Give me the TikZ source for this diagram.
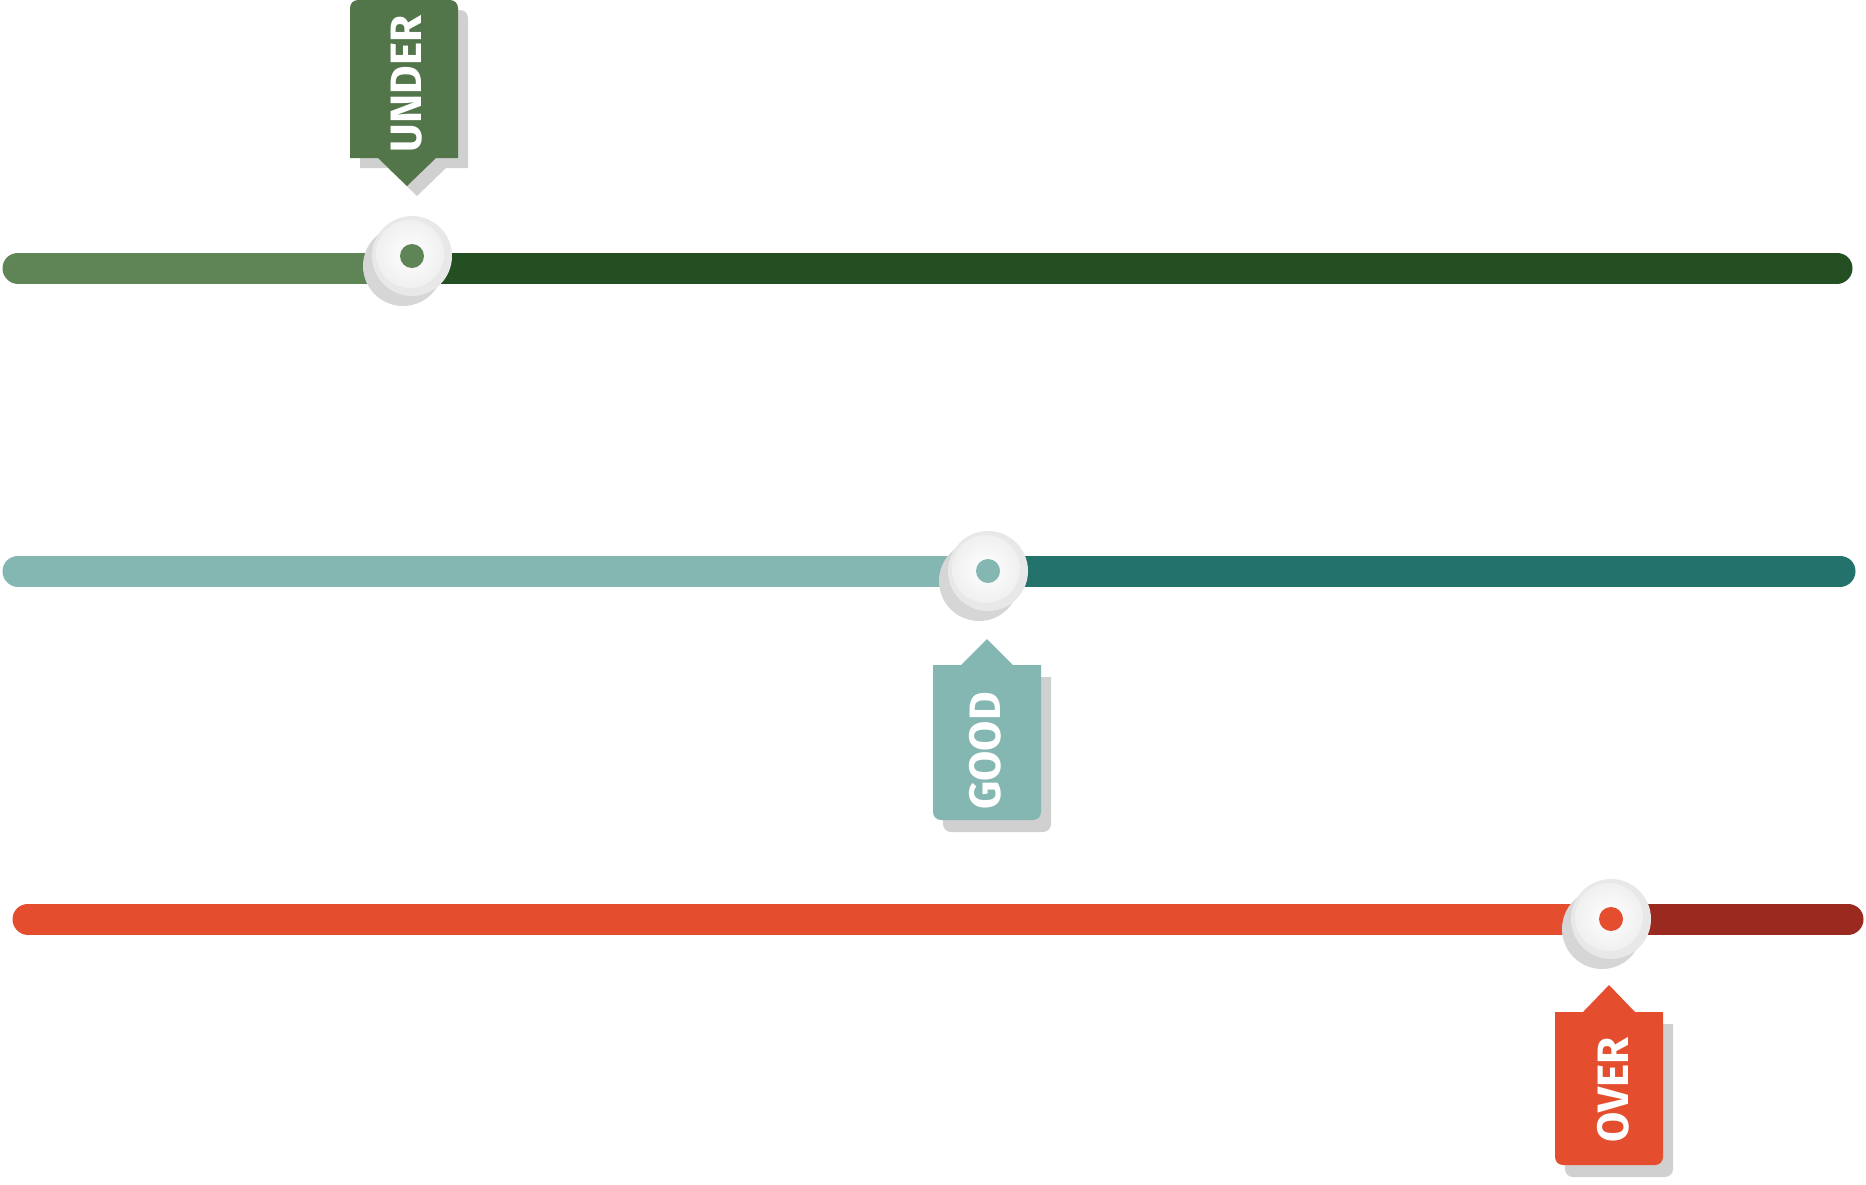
\documentclass[tikz,border=0pt]{standalone}
\usepackage{fontspec}
\newfontfamily\tagfont{Fira Sans}
\definecolor{greenlight}{HTML}{5F8456}
\definecolor{greendark}{HTML}{244F23}
\definecolor{greentag}{HTML}{52754A}
\definecolor{teallight}{HTML}{84B7B2}
\definecolor{tealdark}{HTML}{24726C}
\definecolor{redlight}{HTML}{E44E2E}
\definecolor{reddark}{HTML}{9A2920}
\definecolor{tagshadow}{HTML}{D0D0D0}
\definecolor{knobshadow}{HTML}{D6D6D6}
\tikzset{
  bar/.style={line width=0.62cm, line cap=round},
  knob/.style={circle, minimum size=1.6cm, inner sep=0pt, fill=black!9},
  knobface/.style={inner color=white, outer color=black!6},
  dot/.style={circle, minimum size=0.48cm, inner sep=0pt},
  tagtext/.style={text=white, rotate=90, font=\tagfont\bfseries\fontsize{25}{28}\selectfont, inner sep=0pt}
}
\begin{document}
\begin{tikzpicture}[x=0.02cm, y=-0.02cm]
\useasboundingbox (0,0) rectangle (1866,1184);

\coordinate (barAleft) at (18,268);
\coordinate (barAright) at (1837,268);
\coordinate (barBleft) at (18,571);
\coordinate (barBright) at (1840,571);
\coordinate (barCleft) at (28,919);
\coordinate (barCright) at (1848,919);

\node[knob, fill=none] (knobA) at (412,256) {};
\node[knob, fill=none] (knobB) at (988,571) {};
\node[knob, fill=none] (knobC) at (1611,919) {};

\draw[bar, greendark] (barAright) -- (knobA |- barAright);
\draw[bar, greenlight] (barAleft) -- (knobA |- barAleft);
\draw[bar, tealdark] (barBright) -- (knobB.center);
\draw[bar, teallight] (barBleft) -- (knobB.center);
\draw[bar, reddark] (barCright) -- (knobC.center);
\draw[bar, redlight] (barCleft) -- (knobC.center);

\fill[knobshadow] ([shift={(-9,10)}]knobA.center) circle (0.8cm);
\fill[knobshadow] ([shift={(-9,10)}]knobB.center) circle (0.8cm);
\fill[knobshadow] ([shift={(-9,10)}]knobC.center) circle (0.8cm);
\node[knob] at (knobA) {};
\node[knob] at (knobB) {};
\node[knob] at (knobC) {};
\shade[knobface] ([shift={(-2,-2)}]knobA.center) circle (0.68cm);
\shade[knobface] ([shift={(-2,-2)}]knobB.center) circle (0.68cm);
\shade[knobface] ([shift={(-2,-2)}]knobC.center) circle (0.68cm);
\node[dot, fill=greenlight] (dotA) at (knobA) {};
\node[dot, fill=teallight] (dotB) at (knobB) {};
\node[dot, fill=redlight] (dotC) at (knobC) {};

\fill[tagshadow, shift={(10,10)}] (350,158) [rounded corners=0.16cm] -- (350,0) -- (458,0) [sharp corners] -- (458,158) -- (436,158) -- (407,186) -- (378,158) -- cycle;
\fill[greentag] (350,158) [rounded corners=0.16cm] -- (350,0) -- (458,0) [sharp corners] -- (458,158) -- (436,158) -- (407,186) -- (378,158) -- cycle;
\node[tagtext] (under) at (407,84) {UNDER};

\fill[tagshadow, shift={(10,12)}] (961,665) -- (987,639) -- (1013,665) -- (1041,665) [rounded corners=0.16cm] -- (1041,820) -- (933,820) [sharp corners] -- (933,665) -- cycle;
\fill[teallight] (961,665) -- (987,639) -- (1013,665) -- (1041,665) [rounded corners=0.16cm] -- (1041,820) -- (933,820) [sharp corners] -- (933,665) -- cycle;
\node[tagtext] (good) at (985,751) {GOOD};

\fill[tagshadow, shift={(10,12)}] (1583,1012) -- (1609,985) -- (1635,1012) -- (1663,1012) [rounded corners=0.16cm] -- (1663,1165) -- (1555,1165) [sharp corners] -- (1555,1012) -- cycle;
\fill[redlight] (1583,1012) -- (1609,985) -- (1635,1012) -- (1663,1012) [rounded corners=0.16cm] -- (1663,1165) -- (1555,1165) [sharp corners] -- (1555,1012) -- cycle;
\node[tagtext] (over) at (1613,1090) {OVER};
\end{tikzpicture}
\end{document}
